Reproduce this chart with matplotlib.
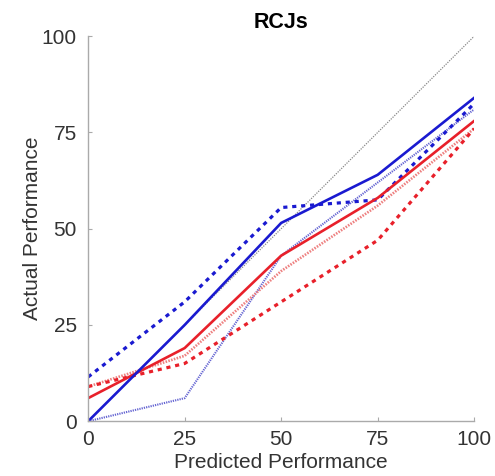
import matplotlib.pyplot as plt

plt.rcParams['font.family'] = ['Liberation Sans', 'DejaVu Sans']

预测 = [0, 25, 50, 75, 100]
蓝实线 = [0, 25, 51.5, 64, 84]
蓝虚线 = [11.5, 31, 55.5, 57.5, 82.5]
蓝点线 = [0, 6, 43, 62, 81]
红实线 = [6, 19, 43, 58, 78]
红点线 = [9, 17, 39, 56, 76]
红虚线 = [9, 15, 31, 47, 76]

布 = plt.figure(figsize=(4.95, 4.76), dpi=100)
图 = 布.add_axes([0.178, 0.115, 0.78, 0.809])

# 对角参考线
图.plot([0, 100], [0, 100], color='#888888', lw=0.9, dashes=(1, 1))

图.plot(预测, 蓝点线, color='#6464d2', lw=1.5, dashes=(0.6, 0.5))
图.plot(预测, 红点线, color='#ee8080', lw=1.9, dashes=(0.6, 0.5))
图.plot(预测, 红虚线, color='#e8202a', lw=2.3, dashes=(1.3, 1.5))
图.plot(预测, 蓝虚线, color='#1a1ad0', lw=2.3, dashes=(1.3, 1.5))
图.plot(预测, 红实线, '-', color='#e8202a', lw=1.9)
图.plot(预测, 蓝实线, '-', color='#1a1ad0', lw=1.9)

图.set_xlim(0, 100)
图.set_ylim(0, 100)
图.set_xticks([0, 25, 50, 75, 100])
图.set_yticks([0, 25, 50, 75, 100])
for 边 in ['top', 'right']:
    图.spines[边].set_visible(False)
for 边 in ['left', 'bottom']:
    图.spines[边].set_color('#aaaaaa')
    图.spines[边].set_linewidth(1.0)
图.tick_params(direction='in', length=3, color='#aaaaaa', labelsize=15,
              labelcolor='#333333')
图.tick_params(axis='y', pad=8)
图.tick_params(axis='x', pad=6)
图.set_xlabel('Predicted Performance', fontsize=15, color='#333333', labelpad=3)
图.set_ylabel('Actual Performance', fontsize=15, color='#333333', labelpad=0)
图.set_title('RCJs', fontsize=15.5, fontweight='bold', pad=6)

布.savefig('out.png', dpi=100)
